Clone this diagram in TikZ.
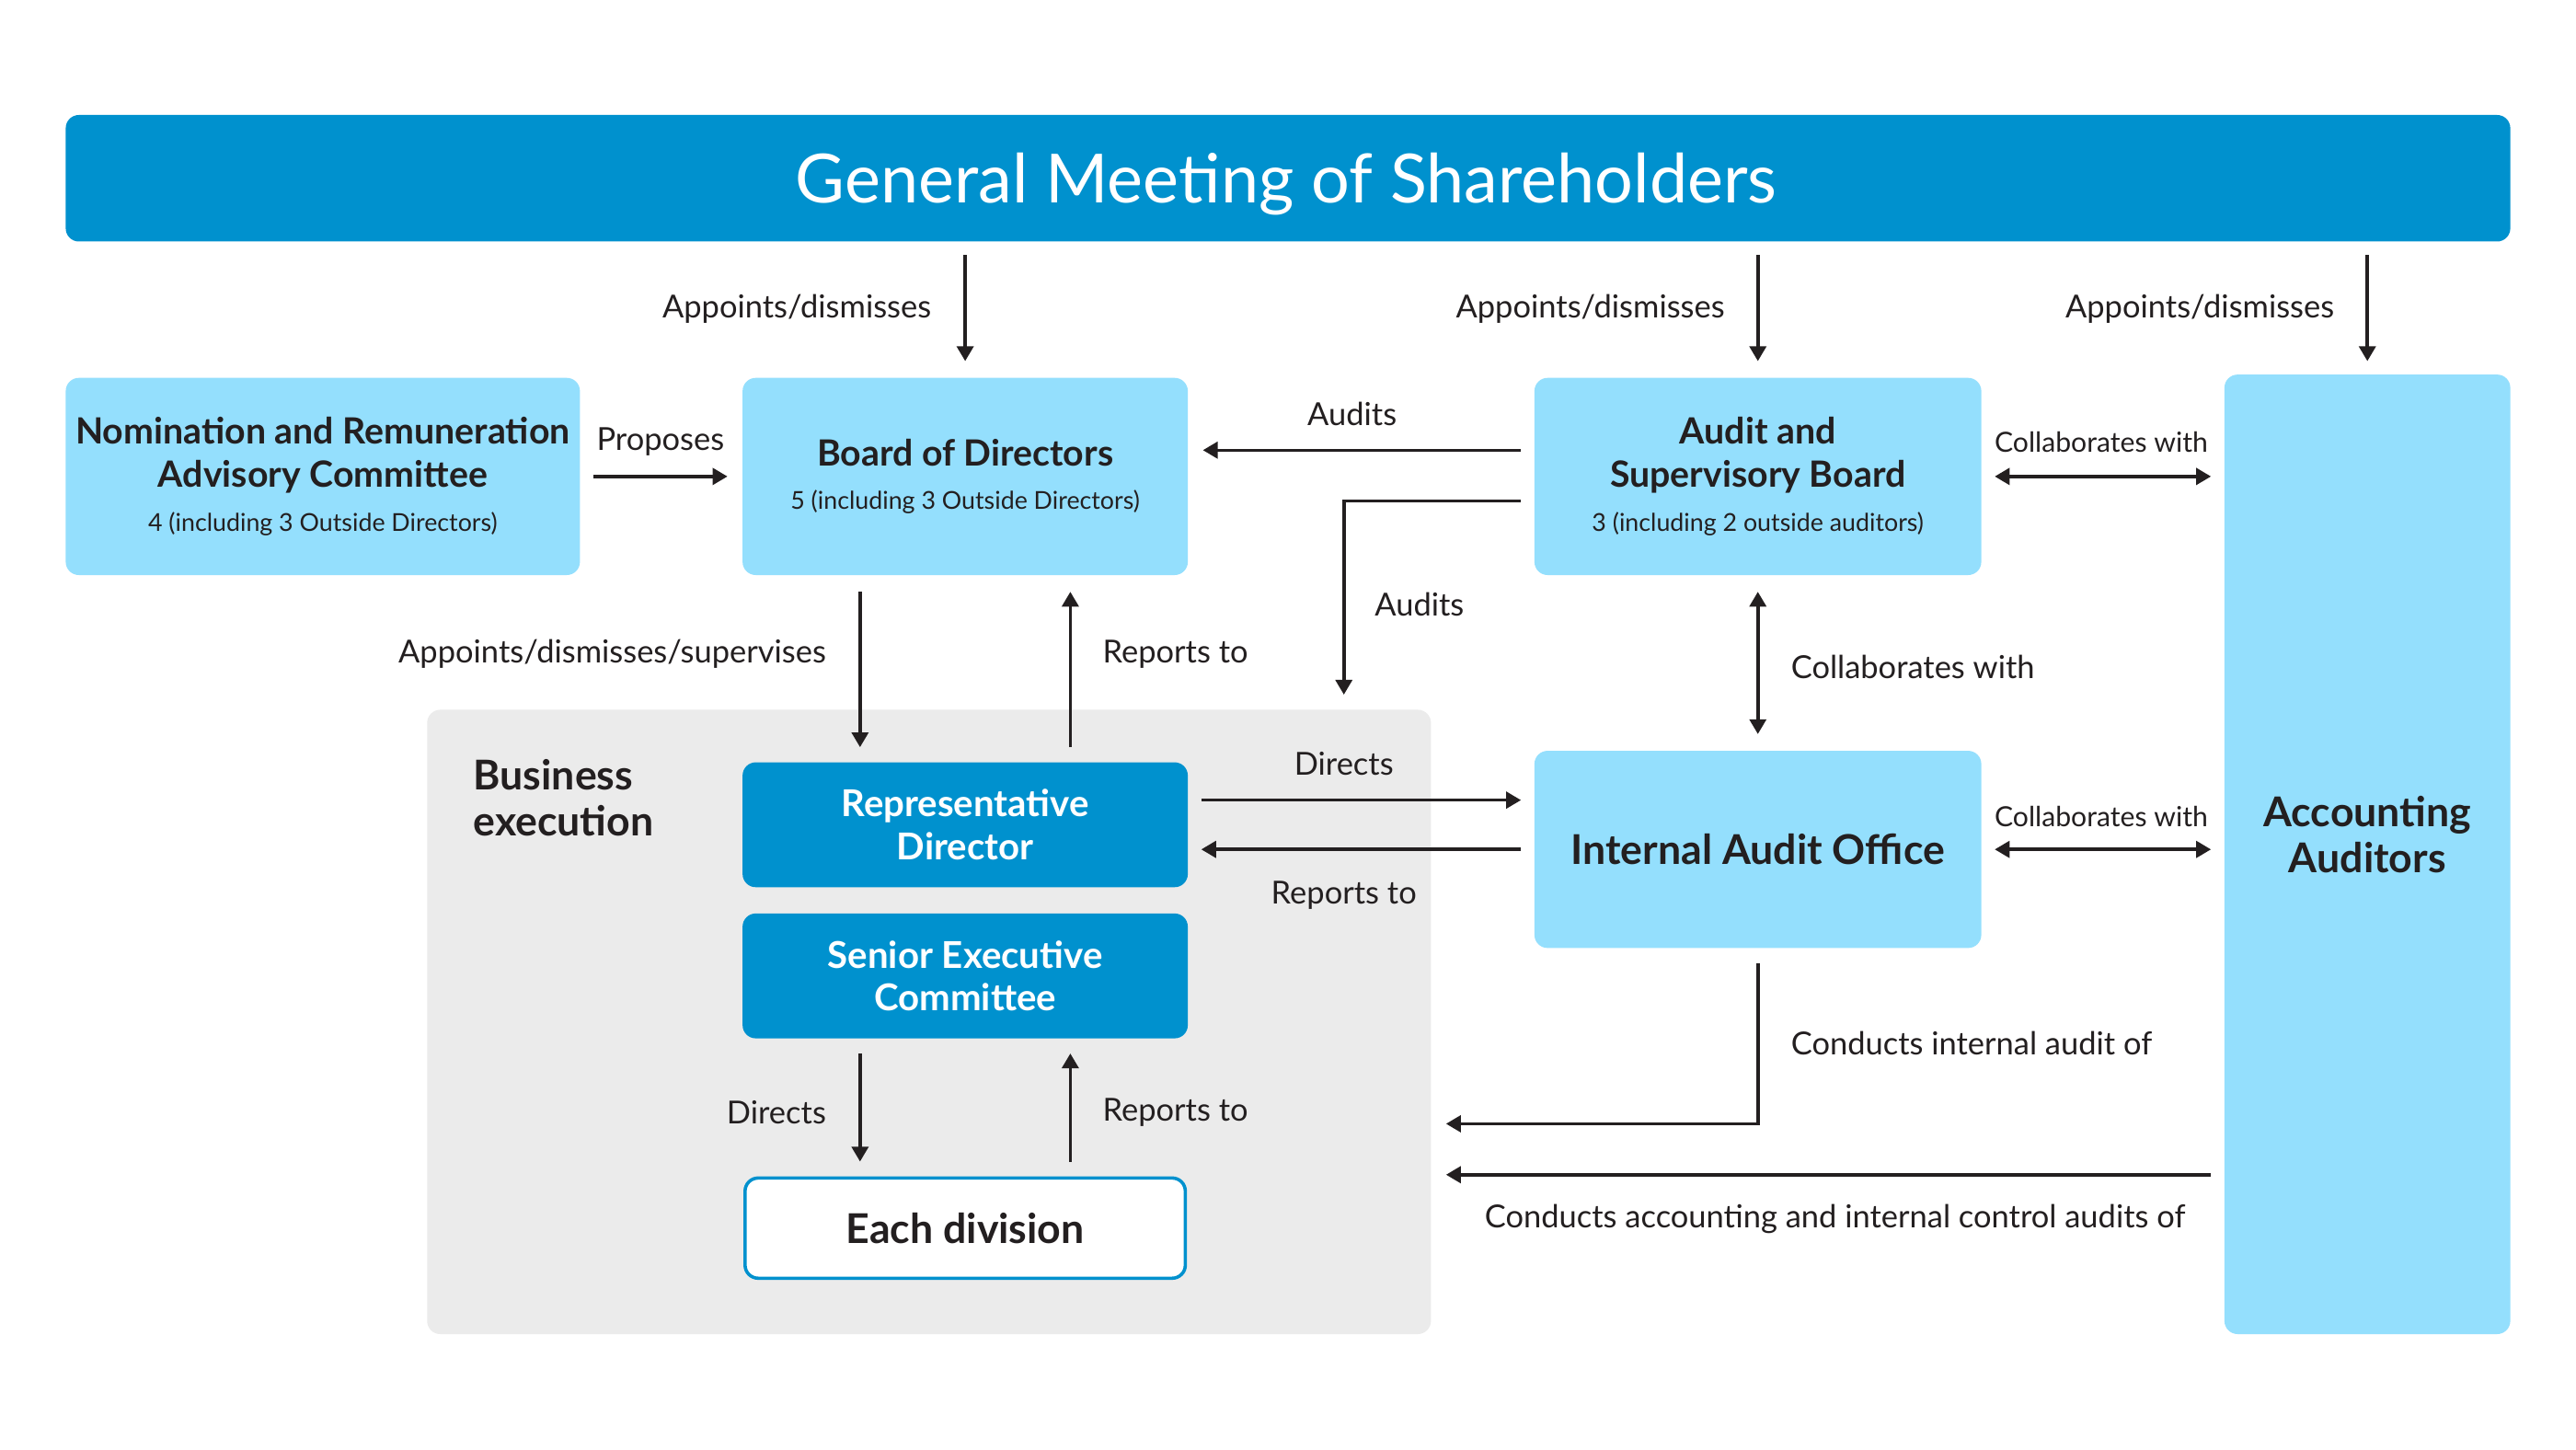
\documentclass[tikz,border=0pt]{standalone}
\usepackage{fontspec}
\setmainfont{Lato}
\usetikzlibrary{arrows.meta,calc}
\definecolor{gmsblue}{RGB}{0,145,206}
\definecolor{paleblue}{RGB}{148,223,253}
\definecolor{bizgray}{RGB}{235,235,235}
\definecolor{inkgray}{RGB}{35,31,32}
\newcommand{\memberline}[1]{{\fontsize{15}{18}\selectfont\mdseries #1}}
\tikzset{
  palebox/.style={fill=paleblue, rounded corners=8pt, align=center, text=inkgray, inner sep=0pt,
    font=\fontsize{22}{26}\selectfont\bfseries},
  deepbox/.style={fill=gmsblue, rounded corners=8pt, align=center, text=white, inner sep=0pt,
    font=\fontsize{22.5}{26}\selectfont\bfseries},
  arr/.style={-{Triangle[length=9pt,width=10pt]}, line width=2pt, draw=inkgray},
  duo/.style={{Triangle[length=9pt,width=10pt]}-{Triangle[length=9pt,width=10pt]}, line width=2pt, draw=inkgray},
  lbl/.style={text=inkgray, font=\fontsize{19.3}{23}\selectfont, inner sep=0pt},
  minilbl/.style={text=inkgray, font=\fontsize{16.9}{20}\selectfont, inner sep=0pt}
}
\begin{document}
\begin{tikzpicture}[x=1pt, y=-1pt]
  \useasboundingbox[fill=white] (0,0) rectangle (1568,882.5);
  % business execution area
  \node[fill=bizgray, rounded corners=8pt, minimum width=611pt, minimum height=380pt] (bizex) at (565.5,622) {};
  \node[anchor=north west, align=left, text=inkgray, inner sep=0pt,
        font=\fontsize{25}{28}\selectfont\bfseries] (bizlbl) at (288,462) {Business\\execution};
  % boxes
  \node[fill=gmsblue, rounded corners=8pt, minimum width=1488pt, minimum height=77pt] (gms) at (784,108.5) {};
  \node[text=white, font=\fontsize{41.3}{48}\selectfont] (gmslbl) at (783,112) {General Meeting of Shareholders};
  \node[palebox, minimum width=313pt, minimum height=120pt] (nrac) at (196.5,290)
    {Nomination and Remuneration\\Advisory Committee\\[1pt]\memberline{4 (including 3 Outside Directors)}};
  \node[palebox, minimum width=271pt, minimum height=120pt] (bod) at (587.5,290)
    {Board of Directors\\[0pt]\memberline{5 (including 3 Outside Directors)}};
  \node[palebox, minimum width=272pt, minimum height=120pt] (asb) at (1070,290)
    {Audit and\\Supervisory Board\\[1pt]\memberline{3 (including 2 outside auditors)}};
  \node[palebox, minimum width=174pt, minimum height=584pt] (aa) at (1441,520) {};
  \node[text=inkgray, align=center, font=\fontsize{25}{28}\selectfont\bfseries] (aalbl) at (1441,508)
    {Accounting\\Auditors};
  \node[palebox, minimum width=272pt, minimum height=120pt,
        font=\fontsize{25}{28}\selectfont\bfseries] (iao) at (1070,517) {Internal Audit Office};
  \node[deepbox, minimum width=271pt, minimum height=76pt] (rep) at (587.5,502) {Representative\\Director};
  \node[deepbox, minimum width=271pt, minimum height=76pt] (sec) at (587.5,594) {Senior Executive\\Committee};
  \node[fill=white, draw=gmsblue, line width=2pt, rounded corners=8pt, minimum width=268pt,
        minimum height=61pt, text=inkgray, font=\fontsize{25}{28}\selectfont\bfseries] (div) at (587.5,747.5)
    {Each division};
  % from the general meeting
  \draw[arr, shorten <=8pt, shorten >=10pt] (gms.south -| bod.north) -- (bod.north);
  \draw[arr, shorten <=8pt, shorten >=10pt] (gms.south -| asb.north) -- (asb.north);
  \draw[arr, shorten <=8pt, shorten >=8pt] (gms.south -| aa.north) -- (aa.north);
  \node[lbl, anchor=east] (app1) at (567,188) {Appoints/dismisses};
  \node[lbl, anchor=east] (app2) at (1050,188) {Appoints/dismisses};
  \node[lbl, anchor=east] (app3) at (1421,188) {Appoints/dismisses};
  % second row
  \draw[arr, shorten <=8pt, shorten >=9pt] (nrac.east) -- (bod.west);
  \node[lbl] (prop) at (402,269) {Proposes};
  \draw[arr, shorten <=8pt, shorten >=9pt] ($(asb.west)+(0,-16)$) -- ($(bod.east)+(0,-16)$);
  \node[lbl] (aud1) at (823,252) {Audits};
  \draw[arr] ($(asb.west)+(-8,15)$) -| ($(bizex.north)+(252.5,-9)$);
  \node[lbl] (aud2) at (864,368) {Audits};
  \draw[duo, shorten <=8pt, shorten >=8pt] (asb.east) -- (aa.west |- asb.east);
  \node[minilbl] (col1) at (1279,269) {Collaborates with};
  % board and representative director
  \draw[arr] ($(bod.south)+(-64,10)$) -- ($(rep.north)+(-64,-9)$);
  \node[lbl, anchor=east] (sup) at (503,398) {Appoints/dismisses/supervises};
  \draw[arr] ($(rep.north)+(64,-9)$) -- ($(bod.south)+(64,10)$);
  \node[lbl, anchor=west] (rep1) at (671,398) {Reports to};
  \draw[duo, shorten <=10pt, shorten >=10pt] (asb.south) -- (iao.north);
  \node[lbl, anchor=west] (col2) at (1090,406) {Collaborates with};
  % internal audit office
  \draw[arr] ($(rep.east)+(8,-15)$) -- ($(iao.west |- rep.east)+(-8,-15)$);
  \node[lbl] (dir1) at (818,465) {Directs};
  \draw[arr] ($(iao.west |- rep.east)+(-8,15)$) -- ($(rep.east)+(8,15)$);
  \node[lbl] (rep2) at (818,545) {Reports to};
  \draw[duo, shorten <=8pt, shorten >=8pt] (iao.east) -- (aa.west |- iao.east);
  \node[minilbl] (col3) at (1279,497) {Collaborates with};
  % senior executive committee and divisions
  \draw[arr] ($(sec.south)+(-64,9)$) -- ($(div.north)+(-64,-9)$);
  \node[lbl, anchor=east] (dir2) at (503,677) {Directs};
  \draw[arr] ($(div.north)+(64,-9)$) -- ($(sec.south)+(64,9)$);
  \node[lbl, anchor=west] (rep3) at (671,677) {Reports to};
  % audits of business execution
  \draw[arr] ($(iao.south)+(0,9)$) |- ($(bizex.east)+(9,62)$);
  \node[lbl, anchor=west] (cia) at (1090,635) {Conducts internal audit of};
  \draw[arr] ($(aa.west |- bizex.east)+(-8,93)$) -- ($(bizex.east)+(9,93)$);
  \node[lbl] (cac) at (1117,742) {Conducts accounting and internal control audits of};
\end{tikzpicture}
\end{document}
